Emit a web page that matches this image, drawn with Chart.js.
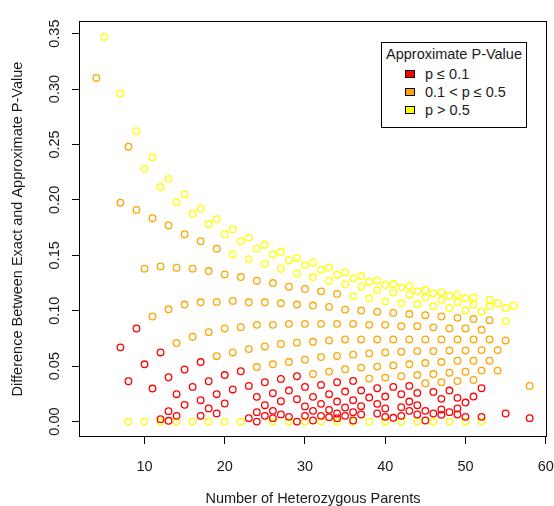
<!DOCTYPE html>
<html>
<head>
<meta charset="utf-8">
<script src="https://cdn.jsdelivr.net/npm/chart.js@4/dist/chart.umd.min.js"></script>
<style>
html,body{margin:0;padding:0;background:#ffffff;}
#wrap{position:relative;width:554px;height:506px;overflow:hidden;}
#c{position:absolute;left:0;top:0;}
#legend{position:absolute;left:381px;top:42px;width:146px;height:86px;border:1px solid #000;box-sizing:border-box;background:#fff;
  font-family:'Liberation Sans',Arial,sans-serif;font-size:14.5px;color:#1a1a1a;}
#legend .t{position:absolute;left:0;width:144px;top:3px;text-align:center;line-height:17px;}
#legend .row{position:absolute;left:0;height:17px;line-height:17px;}
#legend .sw{position:absolute;left:23px;top:4px;width:10px;height:8px;border:1px solid #000;box-sizing:border-box;}
#legend .lb{position:absolute;left:43px;top:0;white-space:nowrap;}
</style>
</head>
<body>
<div id="wrap">
<canvas id="c" width="554" height="506"></canvas>
<div id="legend">
  <div class="t">Approximate P-Value</div>
  <div class="row" style="top:23px"><div class="sw" style="background:#FF0000"></div><div class="lb">p ≤ 0.1</div></div>
  <div class="row" style="top:41px"><div class="sw" style="background:#FFA500"></div><div class="lb">0.1 &lt; p ≤ 0.5</div></div>
  <div class="row" style="top:59px"><div class="sw" style="background:#FFFF00"></div><div class="lb">p &gt; 0.5</div></div>
</div>
</div>
<script>
// ---- tick labels ----
const xTicks = [10, 20, 30, 40, 50, 60];
const yTicks = [0, 0.05, 0.10, 0.15, 0.20, 0.25, 0.30, 0.35];

// ---- p > 0.5 (yellow) ----
const yellowN = [
  5,7,9,11,13,15,17,19,21,23,25,27,29,31,33,35,37,39,41,43,45,47,49,51,53,
  10,12,14,16,18,20,22,24,26,28,30,32,34,36,38,40,42,44,46,48,50,54,56,
  21,23,25,27,29,31,33,35,37,39,41,43,45,47,49,51,53,55,
  36,38,40,42,44,46,48,50,52,55,
  8,10,12,14,16,18,20,22,26,28,30,32,34,36,38,40,42,44,46,48,50,52
];
const yellowV = [
  .347,.296,.262,.2385,.219,.205,.192,.1826,.1736,.166,.1595,.1532,.1475,.1433,.139,.1346,.1313,.1271,.1241,.122,.1187,.1166,.1145,.1121,.110,
  .228,.2116,.198,.1876,.178,.169,.1628,.156,.1508,.1454,.1412,.137,.1325,.1292,.1262,.1233,.1211,.1175,.1157,.1133,.1112,.1067,.1046,
  .1508,.1466,.1424,.1379,.1337,.1304,.1271,.1238,.1217,.1184,.1163,.1142,.1121,.110,.1076,.1055,.104,.1025,
  .113,.111,.1085,.1067,.1058,.104,.1025,.1002,.0993,.0906,
  0,0,0,0,0,0,0,0,0,0,0,0,0,0,0,0,0,0,0,0,0,0
];

// ---- 0.1 < p <= 0.5 (orange) ----
const orangeN = [
  4,8,
  7,9,11,13,15,17,19,
  10,12,14,16,18,20,22,24,26,28,30,32,34,
  11,13,15,17,19,21,23,25,27,29,31,33,35,37,39,41,43,45,47,49,51,53,
  14,16,18,20,22,24,26,28,30,32,34,36,38,40,42,44,46,48,50,52,
  19,21,23,25,27,29,31,33,35,37,39,41,43,45,47,49,51,53,55,
  24,26,28,30,32,34,36,38,40,42,44,46,48,50,52,54,
  31,33,35,37,39,41,43,45,47,49,51,53,
  38,40,42,44,46,48,50,52,54,
  45,47,49,51,
  58
];
const orangeV = [
  .310,.248,
  .1975,.191,.1835,.177,.169,.1628,.156,
  .138,.140,.1388,.138,.1358,.1328,.1304,.1271,.125,.1217,.1196,.1175,.1152,
  .0948,.1013,.1056,.1076,.108,.1089,.1076,.1076,.1067,.1056,.1047,.1035,.101,.1002,.099,.0981,.097,.096,.0948,.0936,.0925,.0915,
  .0708,.0766,.0807,.084,.0852,.0873,.0873,.0882,.0882,.0882,.0882,.0882,.0873,.0873,.0861,.0861,.085,.084,.084,.0828,
  .059,.0624,.0654,.0678,.070,.0712,.072,.0732,.0741,.0741,.0741,.0741,.0741,.0741,.0741,.0741,.0741,.0741,.0732,
  .0492,.0517,.0537,.0559,.0582,.0592,.0604,.0615,.0624,.063,.0636,.0636,.0642,.0642,.0645,.0645,
  .043,.0451,.0472,.0487,.0496,.0507,.0517,.0528,.0537,.0549,.0549,.0549,
  .0388,.0397,.0409,.042,.0429,.0441,.045,.046,.046,
  .0346,.0355,.0366,.0376,
  .0322
];

// ---- p <= 0.1 (red) ----
const redN = [
  7,9,8,10,12,
  11,13,15,17,
  14,16,18,20,22,
  13,15,17,19,21,23,25,27,29,
  14,18,20,24,26,28,30,32,34,36,
  17,19,23,25,27,29,31,33,35,37,39,41,43,
  24,26,30,32,34,36,38,40,42,44,46,48,52,
  25,27,31,33,35,37,39,43,47,49,51,
  12,24,26,28,30,32,34,36,40,42,44,50,
  13,29,31,33,35,37,39,43,45,47,49,
  34,36,40,42,44,46,48,
  41,45,47,49,50,52,55,58
];
const redV = [
  .067,.084,.0364,.0517,.0624,
  .0298,.040,.047,.0537,
  .0247,.0313,.0364,.042,.0454,
  .0094,.0151,.0193,.0247,.029,.0322,.0355,.0385,.0409,
  .0052,.0119,.0163,.0223,.0256,.028,.0313,.0331,.0355,.0367,
  .0052,.0074,.0031,.0148,.0184,.0202,.0223,.0247,.0271,.028,.0301,.0313,.0322,
  .0085,.0097,.0137,.016,.0181,.0193,.0217,.0226,.0247,.0259,.0268,.028,.0301,
  .0052,.0065,.0097,.0106,.0127,.0139,.016,.0181,.0205,.0214,.0226,
  .0022,0,.0031,.0043,.0052,.0052,.0073,.0085,.0118,.013,.0148,.0172,
  .0007,0,.001,.004,.0052,.0064,.0073,.0097,.0097,.0109,.0118,
  .003,.001,.0043,.0052,.0064,.0073,.0085,
  .0034,.001,.0061,.0064,.0043,.0043,.0073,.0031
];

const pts = (ns, vs) => ns.map((n, i) => ({x: n, y: vs[i]}));
const FONT = "'Liberation Sans', Arial, sans-serif";
const TXT = '#1a1a1a';

const boxPlugin = {
  id: 'box',
  afterDraw(chart) {
    const {ctx, chartArea: a} = chart;
    ctx.save();
    ctx.strokeStyle = '#000';
    ctx.lineWidth = 1;
    ctx.strokeRect(Math.round(a.left) + 0.5, Math.round(a.top) + 0.5,
                   Math.round(a.right - a.left) - 1, Math.round(a.bottom - a.top) - 1);
    ctx.restore();
  }
};

const ds = (label, ns, vs, col) => ({
  label, data: pts(ns, vs), showLine: false,
  borderColor: col, backgroundColor: 'rgba(0,0,0,0)',
  pointStyle: 'circle', pointRadius: 3.3, pointBorderWidth: 1.3, pointHoverRadius: 3.3
});

new Chart(document.getElementById('c'), {
  type: 'scatter',
  data: {
    datasets: [
      ds('p ≤ 0.1', redN, redV, '#FF0000'),
      ds('0.1 < p ≤ 0.5', orangeN, orangeV, '#FFA500'),
      ds('p > 0.5', yellowN, yellowV, '#FFFF00')
    ]
  },
  options: {
    responsive: false,
    animation: false,
    devicePixelRatio: 1,
    layout: {padding: {left: 0, right: 7, top: 21, bottom: 0}},
    plugins: {legend: {display: false}, tooltip: {enabled: false}},
    scales: {
      x: {
        type: 'linear', min: 1.84, max: 60.16,
        afterBuildTicks: s => { s.ticks = xTicks.map(v => ({value: v})); },
        afterFit: s => { s.height = 69; s.paddingLeft = 0; s.paddingRight = 0; },
        grid: {display: true, drawOnChartArea: false, drawTicks: true, tickLength: 7, tickColor: '#000', tickWidth: 1},
        border: {display: false},
        ticks: {padding: 14, color: TXT, font: {family: FONT, size: 14.5}, maxRotation: 0, callback: v => String(v)},
        title: {display: true, text: 'Number of Heterozygous Parents', color: TXT,
                font: {family: FONT, size: 14.5}, padding: {top: 0, bottom: -2}}
      },
      y: {
        type: 'linear', min: -0.0139, max: 0.3614,
        afterBuildTicks: s => { s.ticks = yTicks.map(v => ({value: v})); },
        afterFit: s => { s.width = 79; s.paddingTop = 0; s.paddingBottom = 0; },
        grid: {display: true, drawOnChartArea: false, drawTicks: true, tickLength: 7, tickColor: '#000', tickWidth: 1},
        border: {display: false},
        ticks: {padding: 3, color: TXT, font: {family: FONT, size: 14.5}, minRotation: 90, maxRotation: 90,
                crossAlign: 'center', callback: v => Number(v).toFixed(2)},
        title: {display: true, text: 'Difference Between Exact and Approximate P-Value', color: TXT,
                font: {family: FONT, size: 14.5}, padding: {top: 9, bottom: 0}}
      }
    }
  },
  plugins: [boxPlugin]
});
</script>
</body>
</html>
